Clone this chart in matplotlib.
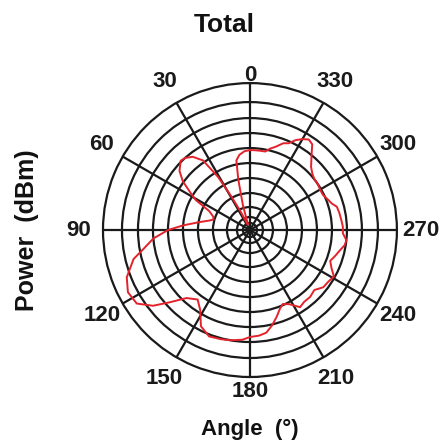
import numpy as np
import matplotlib

matplotlib.use("Agg")
import matplotlib.pyplot as plt

plt.rcParams["font.family"] = ["Liberation Sans", "DejaVu Sans"]

# 측정 데이터 (각도 °, 반경 - 플롯 단위, 바깥 원 = 147)
angle_deg = [0, 4, 8, 11, 13, 16, 19, 23, 27, 29, 31, 34, 38, 42, 45, 50, 54, 58, 61, 65,
             70, 74, 77, 81, 86, 90, 95, 100, 104, 111, 117, 123, 128, 132, 137, 143, 148,
             153, 159, 165, 170, 176, 180, 185, 189, 193, 197, 201, 204, 208, 213, 217, 222,
             227, 232, 237, 241, 245, 249, 253, 257, 261, 264, 268, 272, 276, 281, 285, 288,
             291, 296, 300, 304, 308, 312, 316, 321, 324, 327, 330, 333, 336, 339, 343, 346,
             349, 353, 357, 360]
radius = [80, 79, 76, 71, 52, 25, 6, 6, 22, 38, 62, 84, 93, 97, 98, 92, 83, 70, 62, 45,
          39, 38, 42, 51, 67, 82, 97, 108, 120, 132, 137, 135, 123, 108, 93, 87, 94,
          108, 114, 113, 112, 110, 107, 106, 104, 98, 91, 84, 81, 84, 92, 90, 90,
          88, 93, 94, 96, 90, 86, 89, 92, 96, 97, 93, 93, 92, 91, 90, 86,
          84, 81, 81, 82, 82, 84, 88, 98, 106, 108, 105, 101, 95, 93, 87, 84,
          80, 80, 80, 80]

ring_radii = [7, 13, 23, 37, 52, 67, 82, 97, 112, 128]
r_max = 147
tick_angles = [0, 30, 60, 90, 120, 150, 180, 210, 240, 270, 300, 330]

fig = plt.figure(figsize=(4.42, 4.46), dpi=100)
fig.patch.set_facecolor("white")
ax = fig.add_axes((0.233, 0.1547, 0.665, 0.659), projection="polar")
ax.set_theta_zero_location("N")
ax.set_theta_direction(1)
ax.set_ylim(0, r_max)
ax.set_thetagrids(tick_angles, labels=[""] * len(tick_angles))
ax.set_rgrids(ring_radii, labels=[])
ax.grid(True, color="#1a1a1a", linewidth=1.6)
ax.spines["polar"].set_linewidth(1.6)
ax.spines["polar"].set_color("#1a1a1a")

ax.plot(np.deg2rad(angle_deg), radius, color="#e3222b", linewidth=1.4, zorder=5)

# 각도 라벨 (0, 180은 원에 더 붙어 있음)
for a in tick_angles:
    r_lab = {0: 155, 180: 162}.get(a, 171)
    ax.text(np.deg2rad(a), r_lab, str(a), ha="center", va="center",
            fontsize=16, weight="bold", color="#1a1a1a", clip_on=False)

fig.text(224 / 442, 1 - 25 / 446, "Total", ha="center", va="center",
         fontsize=19, weight="bold", color="#111111")
fig.text(27 / 442, 1 - 230 / 446, "Power  (dBm)", ha="center", va="center",
         rotation=90, fontsize=18, weight="bold", color="#111111")
fig.text(250 / 442, 1 - 429 / 446, "Angle  (°)", ha="center", va="center",
         fontsize=16, weight="bold", color="#111111")

fig.savefig("out.png", dpi=100)
plt.close(fig)
